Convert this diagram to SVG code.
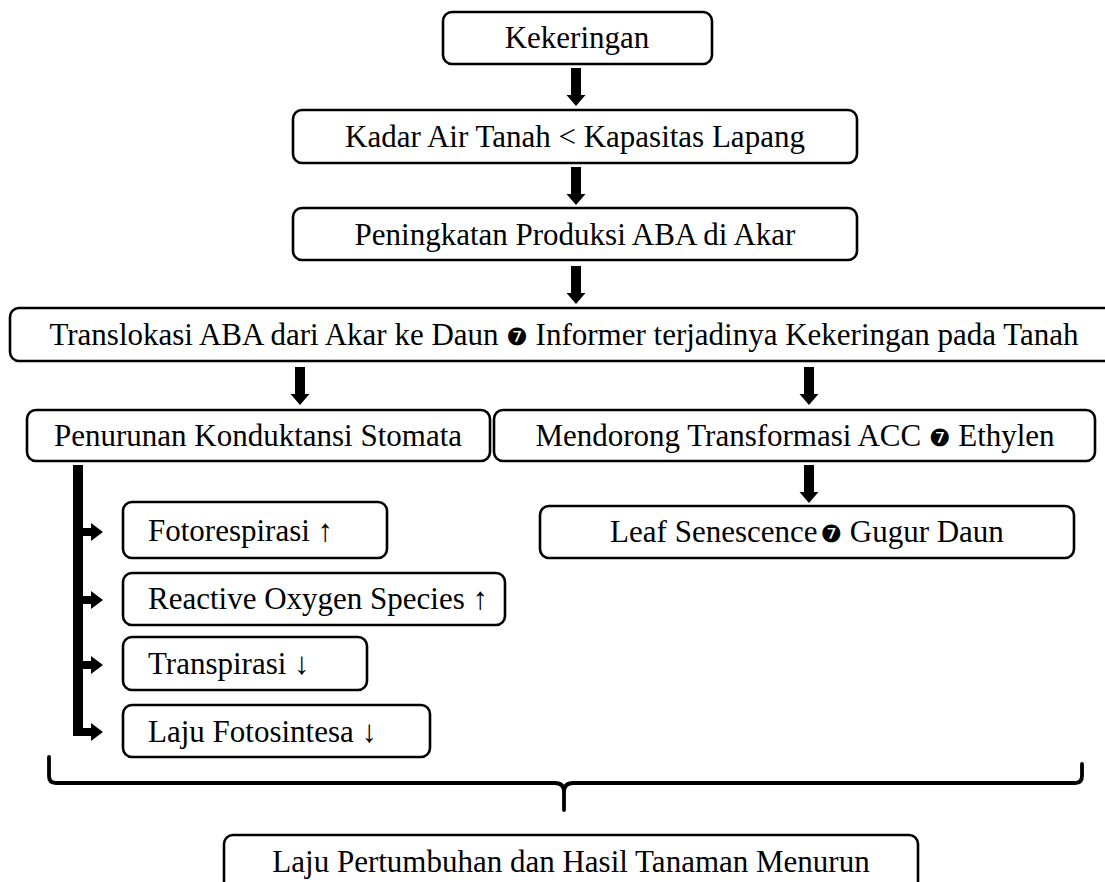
<svg xmlns="http://www.w3.org/2000/svg" width="1105" height="882" viewBox="0 0 1105 882">
<style>
.box{fill:#fff;stroke:#000;stroke-width:2.6}
.t{font-family:"Liberation Serif","Times New Roman",serif;font-size:31px;fill:#000}
.c{text-anchor:middle}
.sym{font-family:"DejaVu Sans",sans-serif;font-size:24px}
.ar{fill:#000}
.br{fill:none;stroke:#000;stroke-width:3.8;stroke-linejoin:round;stroke-linecap:round}
</style>
<defs>
<path id="dn" d="M-5,0 H5 V27 H9.5 L0,38 L-9.5,27 H-5 Z"/>
<path id="rt" d="M0,-4 H8 V-9 L20,0 L8,9 V4 H0 Z"/>
</defs>
<g id="connectors">
<use href="#dn" class="ar" x="576" y="68"/>
<use href="#dn" class="ar" x="576" y="167"/>
<use href="#dn" class="ar" x="576" y="266"/>
<use href="#dn" class="ar" x="300" y="367"/>
<use href="#dn" class="ar" x="809" y="367"/>
<use href="#dn" class="ar" x="809" y="465"/>
<rect class="ar" x="73" y="465" width="10" height="271"/>
<use href="#rt" class="ar" x="83" y="532"/>
<use href="#rt" class="ar" x="83" y="600"/>
<use href="#rt" class="ar" x="83" y="665"/>
<use href="#rt" class="ar" x="83" y="732"/>
<path class="br" d="M49,757 V776 Q49,783 56,783 H555 Q564,783 564,792 V810 M564,792 Q564,783 573,783 H1075 Q1082,783 1082,776 V764"/>
</g>
<g id="n1"><rect class="box" x="443" y="12" width="269" height="52" rx="9"/><text class="t c" x="577" y="48">Kekeringan</text></g>
<g id="n2"><rect class="box" x="293" y="110" width="564" height="53" rx="9"/><text class="t c" x="575" y="147">Kadar Air Tanah &lt; Kapasitas Lapang</text></g>
<g id="n3"><rect class="box" x="293" y="208" width="564" height="52" rx="9"/><text class="t c" x="575" y="245">Peningkatan Produksi ABA di Akar</text></g>
<g id="n4"><rect class="box" x="10" y="308" width="1110" height="53" rx="9"/><text class="t c" x="564" y="345">Translokasi ABA dari Akar ke Daun <tspan class="sym">❼</tspan> Informer terjadinya Kekeringan pada Tanah</text></g>
<g id="n5"><rect class="box" x="27" y="410" width="463" height="51" rx="9"/><text class="t c" x="258" y="446">Penurunan Konduktansi Stomata</text></g>
<g id="n6"><rect class="box" x="494" y="410" width="601" height="51" rx="9"/><text class="t c" x="795" y="446">Mendorong Transformasi ACC <tspan class="sym">❼</tspan> Ethylen</text></g>
<g id="n7"><rect class="box" x="540" y="506" width="534" height="52" rx="9"/><text class="t c" x="807" y="542">Leaf Senescence<tspan class="sym" dx="3">❼</tspan> Gugur Daun</text></g>
<g id="n8"><rect class="box" x="123" y="502" width="264" height="56" rx="9"/><text class="t" x="148" y="541">Fotorespirasi ↑</text></g>
<g id="n9"><rect class="box" x="123" y="573" width="382" height="52" rx="9"/><text class="t" x="148" y="609">Reactive Oxygen Species ↑</text></g>
<g id="n10"><rect class="box" x="123" y="637" width="244" height="53" rx="9"/><text class="t" x="148" y="674">Transpirasi ↓</text></g>
<g id="n11"><rect class="box" x="123" y="705" width="307" height="52" rx="9"/><text class="t" x="148" y="742">Laju Fotosintesa ↓</text></g>
<g id="n12"><rect class="box" x="224" y="835" width="694" height="60" rx="9"/><text class="t c" x="571" y="872">Laju Pertumbuhan dan Hasil Tanaman Menurun</text></g>
</svg>
